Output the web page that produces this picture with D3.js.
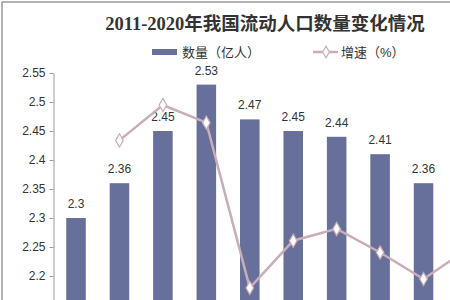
<!DOCTYPE html>
<html>
<head>
<meta charset="utf-8">
<script src="https://cdn.jsdelivr.net/npm/d3@7"></script>
<style>
  html, body { margin: 0; padding: 0; background: #fff; overflow: hidden; }
  #container { width: 450px; height: 300px; overflow: hidden; }
  text { font-family: Arial, "Liberation Sans", "Noto Sans CJK SC", sans-serif; }
</style>
</head>
<body>
<div id="container"></div>
<script>
const years = ['2011', '2012', '2013', '2014', '2015', '2016', '2017', '2018', '2019', '2020'];
// 流动人口数量（亿人）; the 2020 bar lies outside the crop and cannot be read
const amount = [2.30, 2.36, 2.45, 2.53, 2.47, 2.45, 2.44, 2.41, 2.36, null];
// 增速（%）, 2011 has no point
const growth = [null, 2.6, 3.8, 3.2, -2.4, -0.8, -0.4, -1.2, -2.1, -1.1];
const yTicks = [2.2, 2.25, 2.3, 2.35, 2.4, 2.45, 2.5, 2.55];

const barColor = '#67709a';
const lineColor = '#c9adb7';

const svg = d3.select('#container').append('svg')
    .attr('width', 520)
    .attr('height', 360);

// frame of the original picture (only left and top are in the crop)
svg.append('path')
    .attr('d', 'M2,360V2H520')
    .attr('fill', 'none')
    .attr('stroke', '#999')
    .attr('stroke-width', 1.5);

const x = d3.scaleBand()
    .domain(years)
    .range([54.3, 488.7])
    .paddingInner(0.55)
    .paddingOuter(0.275);

const y = d3.scaleLinear().domain([2.1, 2.55]).range([334, 73]);
const yR = d3.scaleLinear().domain([-4, 4]).range([335.1, 99.1]);

// title
svg.append('text')
    .attr('x', 265).attr('y', 30)
    .attr('text-anchor', 'middle')
    .style('font-family', '"Liberation Serif", "Noto Sans CJK SC", serif')
    .style('font-weight', 'bold')
    .style('font-size', '18.5px')
    .attr('fill', '#333')
    .text('2011-2020年我国流动人口数量变化情况');

// legend
const lg = svg.append('g').attr('transform', 'translate(0,52)');
lg.append('rect').attr('x', 152).attr('y', -3).attr('width', 25).attr('height', 6).attr('fill', barColor);
lg.append('text').attr('x', 182).attr('y', 5).style('font-size', '13px').attr('fill', '#333').text('数量（亿人）');
lg.append('line').attr('x1', 313).attr('x2', 338).attr('stroke', lineColor).attr('stroke-width', 2.5);
lg.append('path').attr('d', d3.symbol(d3.symbolDiamond, 40)()).attr('transform', 'translate(326,0)')
    .attr('fill', '#fff').attr('stroke', lineColor).attr('stroke-width', 1.2);
lg.append('text').attr('x', 341).attr('y', 5).style('font-size', '13px').attr('fill', '#333').text('增速（%）');

// left axis
const axis = svg.append('g')
    .attr('transform', 'translate(53.5,0)')
    .call(d3.axisLeft(y).tickValues(yTicks).tickSize(4).tickSizeOuter(0).tickPadding(4)
        .tickFormat(d => d3.format('~g')(d)));
axis.select('.domain').attr('stroke', '#999');
axis.selectAll('.tick line').attr('stroke', '#999');
axis.selectAll('.tick text').style('font-size', '12px').attr('fill', '#333')
    .style('font-family', 'Arial, "Liberation Sans", sans-serif');

// bars
const bars = years.map((d, i) => ({ year: d, v: amount[i] })).filter(b => b.v !== null);

svg.append('g').selectAll('rect')
    .data(bars)
    .join('rect')
    .attr('x', b => x(b.year))
    .attr('width', x.bandwidth())
    .attr('y', b => y(b.v))
    .attr('height', b => y(2.1) - y(b.v))
    .attr('fill', barColor);

svg.append('g').selectAll('text')
    .data(bars)
    .join('text')
    .attr('x', b => x(b.year) + x.bandwidth() / 2)
    .attr('y', b => y(b.v) - 10)
    .attr('text-anchor', 'middle')
    .style('font-size', '12px')
    .attr('fill', '#333')
    .text(b => d3.format('~g')(b.v));

// growth line
const pts = years.map((d, i) => ({ year: d, v: growth[i] })).filter(p => p.v !== null);
const line = d3.line()
    .x(p => x(p.year) + x.bandwidth() / 2)
    .y(p => yR(p.v));

svg.append('path')
    .datum(pts)
    .attr('d', line)
    .attr('fill', 'none')
    .attr('stroke', lineColor)
    .attr('stroke-width', 2.5);

svg.append('g').selectAll('path')
    .data(pts)
    .join('path')
    .attr('d', d3.symbol(d3.symbolDiamond, 50)())
    .attr('transform', p => `translate(${x(p.year) + x.bandwidth() / 2},${yR(p.v)})`)
    .attr('fill', '#fff')
    .attr('stroke', lineColor)
    .attr('stroke-width', 1.2);
</script>
</body>
</html>
